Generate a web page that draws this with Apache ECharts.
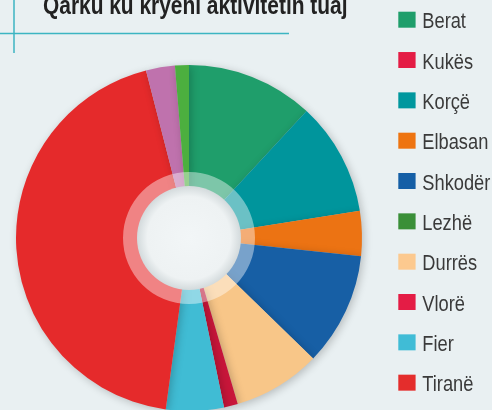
<!DOCTYPE html>
<html><head><meta charset="utf-8">
<script src="https://cdn.jsdelivr.net/npm/echarts@6/dist/echarts.min.js"></script>
<style>html,body{margin:0;padding:0;background:#e9f0f2}#c{width:492px;height:410px}</style>
</head><body><div id="c"></div>
<script>
// Pie order (clockwise from 12 o'clock)
const sliceNames = ['Berat','Korçë','Elbasan','Shkodër','Durrës','Vlorë','Fier','Tiranë','Kukës','Lezhë'];
const sliceValues = [11.9, 10.6, 4.2, 10.6, 8.2, 1.3, 5.4, 43.9, 2.7, 1.3];
const sliceColors = ['#1f9e6b','#00959c','#ec7313','#175fa5','#f8c688','#c8163a','#40bcd4','#e52a2b','#bf72ad','#4caf3f'];
// Legend order and swatch colours as printed
const legendNames = ['Berat','Kukës','Korçë','Elbasan','Shkodër','Lezhë','Durrës','Vlorë','Fier','Tiranë'];
const legendColors = ['#1f9e6b','#e41c45','#00979e','#ee7411','#155fa6','#3a8f38','#fcc98f','#e41c45','#40bcd6','#e42d2c'];
const titleText = 'Qarku ku kryeni aktivitetin tuaj';

const chart = echarts.init(document.getElementById('c'), null, {renderer:'canvas'});
const CX = 189, CY = 238;
const LEG_TOP = 11.7, SW = 16, GAP = 24.33;
const FONT = '"Liberation Sans", Arial, sans-serif';

const legendLabels = legendNames.map((n, i) => ({
  type: 'text', z: 100, x: 422.3, y: LEG_TOP + SW / 2 + i * (SW + GAP) + 2.6, scaleX: 0.83,
  style: {text: n, fontFamily: FONT, fontSize: 22, fill: '#3a3a3a', verticalAlign: 'middle', align: 'left'}
}));

chart.setOption({
  backgroundColor: '#e9f0f2',
  animation: false,
  legend: {
    orient: 'vertical', left: 398.3, top: LEG_TOP, padding: 0,
    itemWidth: 17.3, itemHeight: SW, itemGap: GAP,
    selectedMode: false,
    icon: 'rect',
    formatter: () => '',
    textStyle: {fontSize: 1, lineHeight: 1},
    data: legendNames.map((n, i) => ({name: n, itemStyle: {color: legendColors[i]}}))
  },
  series: [{
    type: 'pie',
    center: [CX, CY],
    radius: [50, 173],
    startAngle: 90,
    clockwise: true,
    label: {show: false},
    labelLine: {show: false},
    emphasis: {disabled: true},
    silent: true,
    itemStyle: {shadowBlur: 8, shadowColor: 'rgba(0,0,0,0.22)', shadowOffsetX: 2, shadowOffsetY: 2},
    data: sliceNames.map((n, i) => ({name: n, value: sliceValues[i], itemStyle: {color: sliceColors[i]}}))
  }],
  graphic: [
    {type: 'ring', z: 100, shape: {cx: CX, cy: CY, r: 66, r0: 51}, style: {fill: 'rgba(255,255,255,0.42)'}},
    {type: 'circle', z: 101, shape: {cx: CX, cy: CY, r: 52},
      style: {fill: new echarts.graphic.RadialGradient(0.5, 0.5, 0.5, [
        {offset: 0, color: '#f2f6f7'}, {offset: 0.8, color: '#eef2f3'}, {offset: 1, color: '#d3dadc'}])}},
    {type: 'line', z: 100, shape: {x1: 0, y1: 33.5, x2: 289, y2: 33.5}, style: {stroke: '#3cb5c2', lineWidth: 1.5}},
    {type: 'line', z: 100, shape: {x1: 14, y1: 0, x2: 14, y2: 53}, style: {stroke: '#3cb5c2', lineWidth: 1.5}},
    {type: 'text', z: 100, x: 43, y: 7.1, scaleX: 0.82,
      style: {text: titleText, fontFamily: FONT, fontWeight: 'bold', fontSize: 25.5, fill: '#222222', verticalAlign: 'middle', align: 'left'}}
  ].concat(legendLabels)
});
</script></body></html>
